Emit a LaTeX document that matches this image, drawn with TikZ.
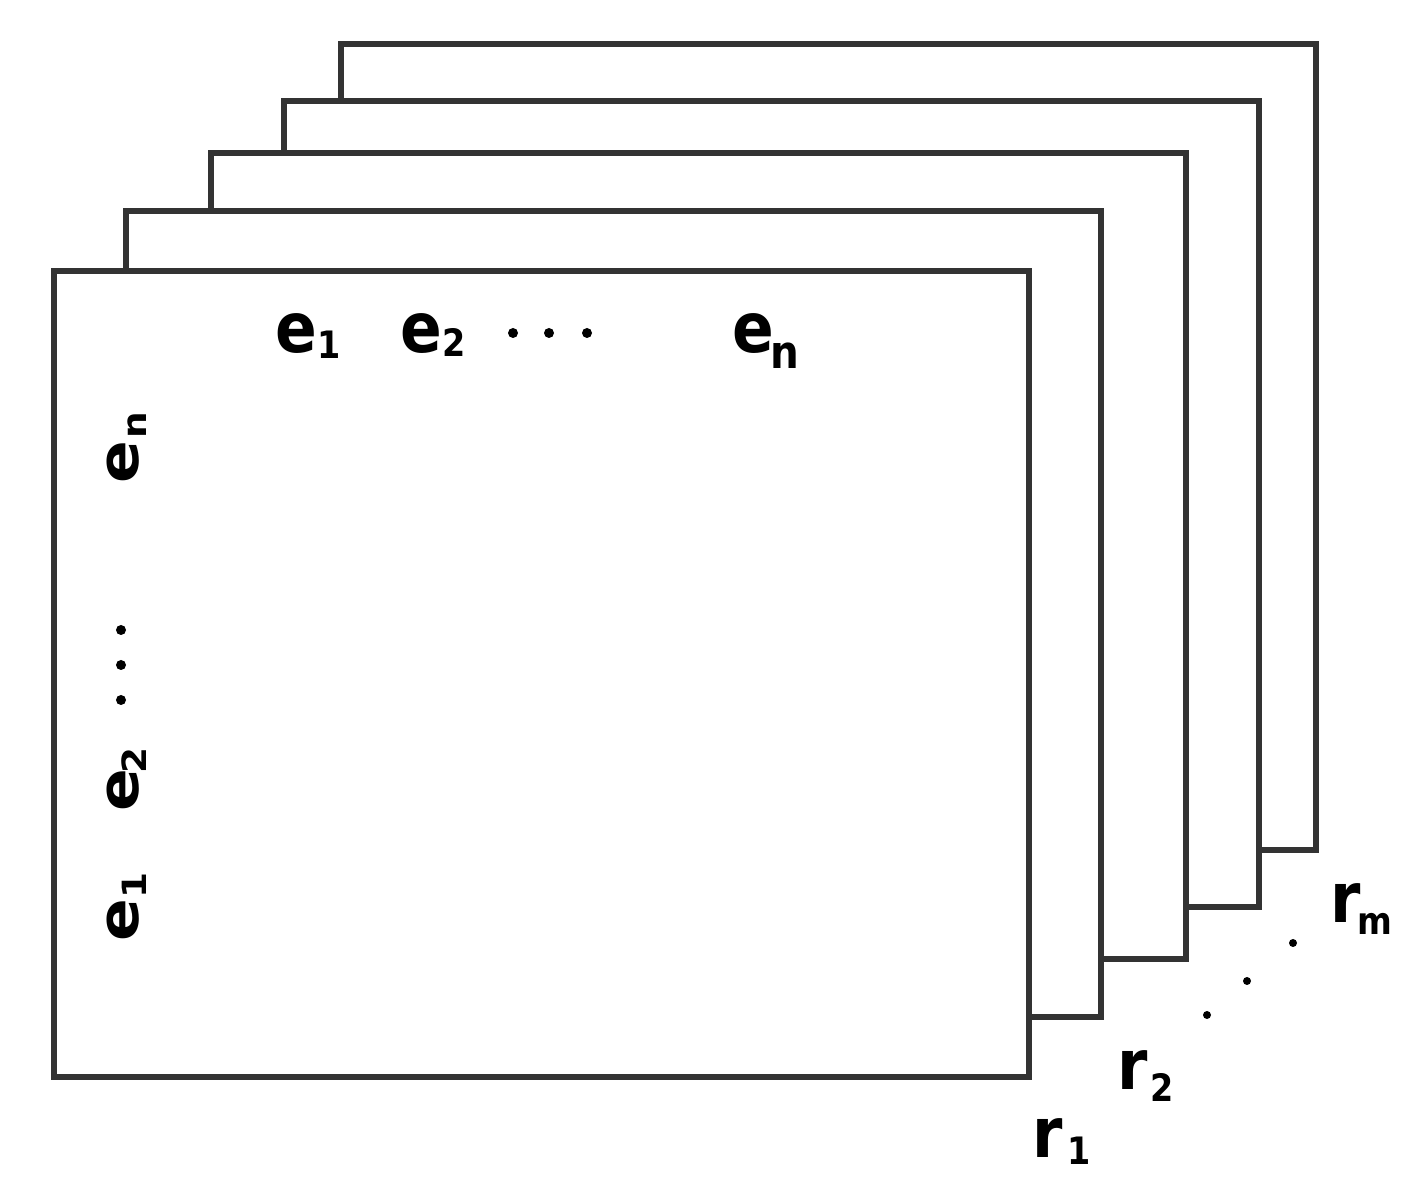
\documentclass[tikz,border=0pt]{standalone}
\usepackage{fontspec}
\setmainfont{DejaVu Sans}
\definecolor{framegray}{RGB}{51,51,51}
\newcommand{\toplbl}[5][9.5]{\scalebox{1}[1.13]{\bfseries\fontsize{17.5}{20}\selectfont #2\kern#4\raisebox{-#5}{\fontsize{#1}{12}\selectfont #3}}}
\newcommand{\sidelbl}[4]{\scalebox{1.12}[1]{\bfseries\fontsize{16}{18}\selectfont #1\kern#3\raisebox{-#4}{\fontsize{9.5}{11}\selectfont #2}}}
\begin{document}
\begin{tikzpicture}[x = 0.01cm, y = -0.01cm, lbl/.style = {inner sep = 0pt, anchor = base west}]
\useasboundingbox (0,0) rectangle (1424,1201);
\pgfmathsetmacro\w{975};
\pgfmathsetmacro\h{806};
\foreach \x/\y in {341/44, 284/101, 211/153, 126/211, 54/271} \draw [fill = white, draw = framegray, line width = 0.06cm] (\x,\y) rectangle ++(\w,\h);
\node[lbl] (top1) at (275,353) {\toplbl{e}{1}{0pt}{1.4pt}};
\node[lbl] (top2) at (400,353) {\toplbl{e}{2}{0pt}{1pt}};
\node[lbl] (topn) at (732,353) {\toplbl[11.5]{e}{n}{-1pt}{3.8pt}};
\foreach \x in {513,549,587} \fill (\x,333) circle [radius = 0.05cm];
\node[lbl, rotate = 90] (left1) at (138,942) {\sidelbl{e}{1}{0pt}{2.3pt}};
\node[lbl, rotate = 90] (left2) at (138,812) {\sidelbl{e}{2}{-1.3pt}{2.3pt}};
\node[lbl, rotate = 90] (leftn) at (138,484) {\sidelbl{e}{n}{0.5pt}{2.3pt}};
\foreach \y in {630,665,700} \fill (121,\y) circle [radius = 0.05cm];
\node[lbl] (rel1) at (1031.5,1157) {\toplbl{r}{1}{1.4pt}{2pt}};
\node[lbl] (rel2) at (1116.5,1090) {\toplbl{r}{2}{0.9pt}{3pt}};
\node[lbl] (relm) at (1329.5,923) {\toplbl{r}{m}{-0.9pt}{3pt}};
\foreach \x/\y in {1207/1015, 1247/981, 1293/943} \fill (\x,\y) circle [radius = 0.04cm];
\end{tikzpicture}
\end{document}
